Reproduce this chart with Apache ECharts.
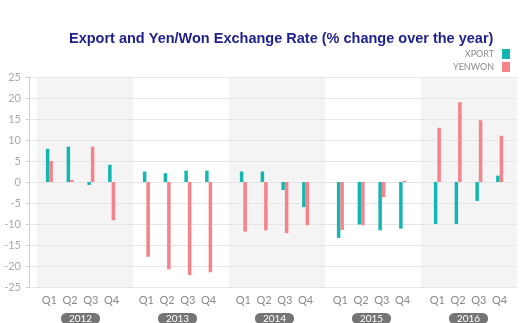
<!DOCTYPE html>
<html>
<head>
<meta charset="utf-8">
<script src="https://cdn.jsdelivr.net/npm/echarts@6/dist/echarts.min.js"></script>
<style>
html,body{margin:0;padding:0;background:#fff;}
#c{width:520px;height:323px;}
</style>
</head>
<body>
<div id="c"></div>
<script>
var quarters = ['Q1', 'Q2', 'Q3', 'Q4'];
var years = ['2012', '2013', '2014', '2015', '2016'];
var xport = [7.9, 8.4, -0.7, 4.1, 2.5, 2.1, 2.7, 2.7, 2.5, 2.5, -1.9, -6.0, -13.3, -10.1, -11.5, -11.1, -10.0, -10.0, -4.5, 1.5];
var yenwon = [5.0, 0.5, 8.4, -9.1, -17.8, -20.8, -22.2, -21.5, -11.8, -11.5, -12.2, -10.3, -11.4, -10.3, -3.6, 0.3, 12.9, 19.0, 14.7, 11.0];
var yTicks = [-25, -20, -15, -10, -5, 0, 5, 10, 15, 20, 25];

var FONT = 'Lato';
var TOP = 77, H = 210;
var grids = [], xAxes = [], yAxes = [], series = [];

// main grid with y axis + gridlines
grids.push({left: 29, top: TOP, width: 488, height: H, show: false, containLabel: false, outerBoundsMode: 'none'});
xAxes.push({type: 'value', gridIndex: 0, show: false, min: 0, max: 1});
yAxes.push({
  type: 'value', gridIndex: 0, min: yTicks[0], max: yTicks[yTicks.length - 1], interval: 5,
  axisLine: {show: true, lineStyle: {color: '#cfcfcf'}},
  axisTick: {show: true, length: 3, lineStyle: {color: '#cfcfcf'}},
  axisLabel: {color: '#a8a8a8', fontSize: 11, fontFamily: FONT, margin: 8},
  splitLine: {show: true, lineStyle: {color: '#e6e6e6'}}
});

// year bands
years.forEach(function (y, i) {
  var gi = grids.length;
  grids.push({left: 37 + 96 * i, top: TOP, width: 96, height: H, show: true, containLabel: false, outerBoundsMode: 'none',
    backgroundColor: i % 2 === 0 ? '#f4f4f4' : 'rgba(0,0,0,0)', borderWidth: 0});
  xAxes.push({type: 'value', gridIndex: gi, show: false, min: 0, max: 1});
  yAxes.push({type: 'value', gridIndex: gi, show: false, min: 0, max: 1});
});

// bar grids per year
years.forEach(function (y, i) {
  var gi = grids.length;
  grids.push({left: 39 + 97 * i, top: TOP, width: 83, height: H, show: false, containLabel: false, outerBoundsMode: 'none'});
  xAxes.push({
    type: 'category', gridIndex: gi, data: quarters,
    axisLine: {show: false}, axisTick: {show: false},
    axisLabel: {color: '#8a8a8a', fontSize: 11, fontFamily: FONT, margin: 8},
    name: y, nameLocation: 'middle', nameGap: 26,
    nameTextStyle: {color: '#ffffff', backgroundColor: '#777573', fontSize: 10, fontFamily: FONT,
      lineHeight: 11, padding: [0, 8, 0, 8], borderRadius: 6, verticalAlign: 'top'}
  });
  yAxes.push({type: 'value', gridIndex: gi, show: false, min: -25, max: 25});
  series.push({
    name: 'XPORT', type: 'bar', xAxisIndex: gi, yAxisIndex: gi,
    data: xport.slice(i * 4, i * 4 + 4), barWidth: 3.5, barGap: '0%',
    itemStyle: {color: '#13b6b1'}
  });
  series.push({
    name: 'YENWON', type: 'bar', xAxisIndex: gi, yAxisIndex: gi,
    data: yenwon.slice(i * 4, i * 4 + 4), barWidth: 3.5, barGap: '0%',
    itemStyle: {color: '#f6838b'}
  });
});

var chart = echarts.init(document.getElementById('c'), null, {renderer: 'canvas'});
chart.setOption({
  animation: false,
  backgroundColor: '#ffffff',
  title: {
    text: 'Export and Yen/Won Exchange Rate (% change over the year)',
    left: 69, top: 31, padding: 0,
    textStyle: {color: '#1f1f8c', fontSize: 14.5, fontWeight: 'bold', fontFamily: 'Liberation Sans'}
  },
  legend: {
    data: ['XPORT', 'YENWON'], orient: 'vertical', right: 5, top: 44,
    align: 'right', icon: 'rect', itemWidth: 8, itemHeight: 10, itemGap: 3,
    textStyle: {color: '#8a8a8a', fontSize: 9, fontFamily: FONT, padding: [0, 3, 0, 0]}
  },
  grid: grids,
  xAxis: xAxes,
  yAxis: yAxes,
  series: series
});
</script>
</body>
</html>
